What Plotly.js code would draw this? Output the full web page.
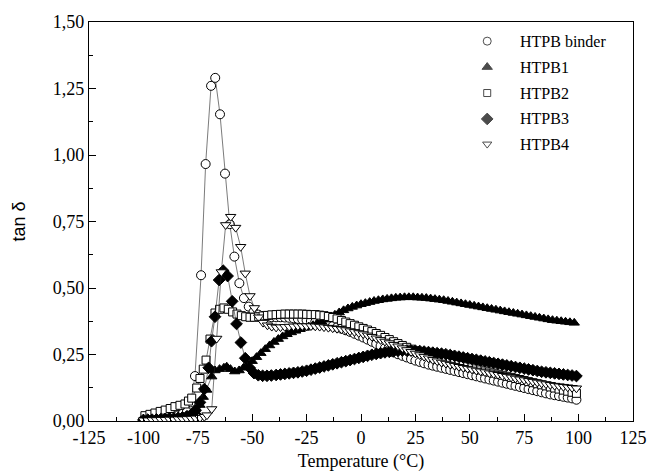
<!DOCTYPE html>
<html>
<head>
<meta charset="utf-8">
<script src="https://cdn.plot.ly/plotly-3.0.1.min.js"></script>
<style>html,body{margin:0;padding:0;background:#fff;}#chart{width:650px;height:476px;}</style>
</head>
<body>
<div id="chart"></div>
<script>
// ---------- DATA ----------
const seriesNames = ["HTPB binder", "HTPB1", "HTPB2", "HTPB3", "HTPB4"];

const binderT = [-100,-98,-96,-94,-92,-90,-88,-86,-84,-82,-80,-78.2,-76.3,-73.5,-71.4,-68.9,-67.0,-64.8,-62.5,-60.3,-58.2,-55.9,-53.8,-51.6,-49.4,-47.2,
  -45,-43,-41,-39,-37,-35,-33,-31,-29,-27,-25,-23,-21,-19,-17,-15,-13,-11,-9,-7,-5,-3,-1,1,3,5,7,9,11,13,15,17,19,21,23,25,27,29,31,33,35,37,39,41,43,45,47,49,51,53,55,57,59,61,63,65,67,69,71,73,75,77,79,81,83,85,87,89,91,93,95,97,99];
const binderV = [0.005,0.006,0.007,0.008,0.010,0.012,0.014,0.017,0.021,0.027,0.035,0.070,0.169,0.548,0.966,1.260,1.290,1.153,0.930,0.740,0.618,0.518,0.462,0.430,0.410,0.400,
  0.395,0.392,0.390,0.390,0.390,0.389,0.388,0.386,0.384,0.382,0.379,0.376,0.373,0.370,0.366,0.362,0.357,0.352,0.347,0.341,0.335,0.328,0.321,0.314,0.306,0.298,0.290,0.282,0.274,0.266,0.258,0.251,0.245,0.239,0.233,0.227,0.222,0.217,0.212,0.208,0.204,0.200,0.196,0.192,0.188,0.184,0.180,0.176,0.172,0.168,0.164,0.160,0.156,0.152,0.148,0.144,0.140,0.136,0.132,0.128,0.124,0.120,0.116,0.112,0.108,0.104,0.100,0.097,0.094,0.091,0.088,0.085,0.080];

const htpb1T = [-100,-98,-96,-94,-92,-90,-88,-86,-84,-82,-80,-78,-76,-74,-72.5,-70.9,-68.6,-67.1,-65,-63,-61.7,-60,-58,-56,-54,-52,-50,
  -48,-46,-44,-42,-40,-38,-36,-34,-32,-30,-28,-26,-24,-22,-20,-18,-16,-14,-12,-10,-8,-6,-4,-2,0,2,4,6,8,10,12,14,16,18,20,22,24,26,28,30,32,34,36,38,40,42,44,46,48,50,52,54,56,58,60,62,64,66,68,70,72,74,76,78,80,82,84,86,88,90,92,94,96,98];
const htpb1V = [0.004,0.005,0.005,0.006,0.006,0.007,0.008,0.009,0.010,0.012,0.014,0.020,0.035,0.060,0.090,0.117,0.167,0.190,0.195,0.200,0.204,0.195,0.186,0.190,0.200,0.210,0.225,
  0.240,0.255,0.270,0.284,0.297,0.308,0.318,0.326,0.333,0.339,0.345,0.350,0.355,0.360,0.366,0.373,0.381,0.390,0.399,0.408,0.416,0.423,0.429,0.434,0.439,0.443,0.447,0.451,0.454,0.457,0.459,0.461,0.463,0.464,0.465,0.465,0.465,0.464,0.463,0.462,0.460,0.458,0.456,0.454,0.451,0.448,0.445,0.442,0.439,0.436,0.433,0.430,0.427,0.424,0.421,0.418,0.415,0.412,0.409,0.406,0.403,0.400,0.397,0.394,0.391,0.388,0.385,0.382,0.379,0.377,0.375,0.373,0.371,0.369];

const htpb2T = [-99.3,-97,-94.7,-92.3,-90,-87.7,-85.5,-83.2,-80.9,-79.3,-77.8,-75.5,-74,-72.5,-71.2,-69.4,-67.1,
  -65,-63,-61,-59,-57,-55,-53,-51,-49,-47,-45,-43,-41,-39,-37,-35,-33,-31,-29,-27,-25,-23,-21,-19,-17,-15,-13,-11,-9,-7,-5,-3,-1,1,3,5,7,9,11,13,15,17,19,21,23,25,27,29,31,33,35,37,39,41,43,45,47,49,51,53,55,57,59,61,63,65,67,69,71,73,75,77,79,81,83,85,87,89,91,93,95,97,99];
const htpb2V = [0.020,0.025,0.030,0.036,0.041,0.047,0.054,0.059,0.064,0.075,0.086,0.124,0.160,0.195,0.229,0.308,0.406,
  0.420,0.425,0.420,0.410,0.402,0.396,0.392,0.390,0.390,0.392,0.395,0.397,0.399,0.400,0.401,0.402,0.402,0.402,0.402,0.402,0.401,0.400,0.400,0.398,0.396,0.393,0.389,0.384,0.378,0.372,0.366,0.360,0.354,0.348,0.342,0.336,0.329,0.322,0.314,0.306,0.298,0.291,0.284,0.277,0.270,0.264,0.258,0.252,0.246,0.240,0.235,0.230,0.225,0.220,0.216,0.212,0.208,0.204,0.200,0.196,0.192,0.188,0.184,0.180,0.176,0.172,0.168,0.164,0.160,0.156,0.152,0.148,0.144,0.140,0.136,0.132,0.128,0.124,0.120,0.116,0.112,0.108,0.104];

const htpb3T = [-100,-98,-96,-94,-92,-90,-88,-86,-84,-82,-80,-78,-76,-74,-72,-70,-68.7,-67.1,-65.2,-63.3,-61.3,-59.2,-57.2,-55.2,-53.2,-51.2,-49.2,-47.2,-45.2,-43.2,-41.2,
  -39,-37,-35,-33,-31,-29,-27,-25,-23,-21,-19,-17,-15,-13,-11,-9,-7,-5,-3,-1,1,3,5,7,9,11,13,15,17,19,21,23,25,27,29,31,33,35,37,39,41,43,45,47,49,51,53,55,57,59,61,63,65,67,69,71,73,75,77,79,81,83,85,87,89,91,93,95,97,99];
const htpb3V = [0.004,0.005,0.005,0.006,0.007,0.008,0.009,0.010,0.012,0.014,0.018,0.025,0.040,0.070,0.120,0.200,0.300,0.392,0.530,0.565,0.545,0.450,0.365,0.295,0.236,0.200,0.180,0.172,0.170,0.170,0.171,
  0.173,0.175,0.177,0.179,0.181,0.183,0.186,0.189,0.193,0.197,0.201,0.205,0.209,0.213,0.217,0.221,0.225,0.229,0.233,0.237,0.241,0.245,0.249,0.252,0.255,0.258,0.260,0.262,0.264,0.265,0.265,0.265,0.264,0.263,0.261,0.259,0.257,0.255,0.253,0.251,0.248,0.245,0.242,0.239,0.236,0.233,0.230,0.227,0.224,0.221,0.218,0.215,0.212,0.209,0.206,0.203,0.200,0.197,0.194,0.191,0.188,0.185,0.183,0.181,0.179,0.177,0.175,0.173,0.171,0.169];

const htpb4T = [-100,-98,-96,-94,-92,-90,-88,-86,-84,-82,-80,-78,-76,-74,-72,-70.8,-68.6,-66.3,-64.2,-62.2,-59.9,-57.6,-55.3,-53.2,-51,-49,-47,-45,-43,-41,
  -39,-37,-35,-33,-31,-29,-27,-25,-23,-21,-19,-17,-15,-13,-11,-9,-7,-5,-3,-1,1,3,5,7,9,11,13,15,17,19,21,23,25,27,29,31,33,35,37,39,41,43,45,47,49,51,53,55,57,59,61,63,65,67,69,71,73,75,77,79,81,83,85,87,89,91,93,95,97,99];
const htpb4V = [0.003,0.003,0.004,0.004,0.005,0.005,0.006,0.006,0.007,0.007,0.008,0.009,0.010,0.012,0.016,0.022,0.045,0.310,0.560,0.737,0.768,0.727,0.655,0.555,0.470,0.425,0.390,0.370,0.360,0.355,
  0.352,0.353,0.354,0.355,0.356,0.357,0.357,0.357,0.357,0.356,0.355,0.353,0.351,0.349,0.347,0.345,0.342,0.338,0.335,0.331,0.327,0.322,0.317,0.311,0.305,0.299,0.293,0.287,0.281,0.274,0.267,0.260,0.254,0.248,0.242,0.236,0.230,0.225,0.220,0.216,0.212,0.208,0.204,0.200,0.197,0.194,0.190,0.187,0.184,0.180,0.177,0.174,0.170,0.167,0.164,0.160,0.157,0.154,0.151,0.148,0.145,0.142,0.139,0.136,0.133,0.131,0.129,0.127,0.125,0.123];

const xTickVals = [-125,-100,-75,-50,-25,0,25,50,75,100,125];
const xTickText = ["-125","-100","-75","-50","-25","0","25","50","75","100","125"];
const yTickVals = [0,0.25,0.5,0.75,1.0,1.25,1.5];
const yTickText = ["0,00","0,25","0,50","0,75","1,00","1,25","1,50"];

// ---------- STYLE ----------
const serif = "Liberation Serif, Times New Roman, serif";
const lineStyle = {color: "#222", width: 0.6};
const symbols = ["circle", "triangle-up", "square", "diamond", "triangle-down"];
const fills = ["#fff", "#000", "#fff", "#000", "#fff"];
const sizes = [9, 9, 8, 9, 9];
const xs = [binderT, htpb1T, htpb2T, htpb3T, htpb4T];
const ys = [binderV, htpb1V, htpb2V, htpb3V, htpb4V];

const traces = seriesNames.map((name, i) => ({
  type: "scatter", mode: "lines+markers", name: name,
  x: xs[i], y: ys[i], showlegend: false,
  line: lineStyle,
  marker: {symbol: symbols[i], size: sizes[i], color: fills[i], line: {color: "#000", width: 1}}
}));

// custom legend (symbols on hidden overlay axes, labels as annotations)
const legX = 0.732, legTextX = 0.788;
const legY = [0.952, 0.887, 0.822, 0.757, 0.694];
traces.push({
  type: "scatter", mode: "markers", xaxis: "x2", yaxis: "y2", showlegend: false, hoverinfo: "skip",
  x: legY.map(() => legX), y: legY,
  marker: {symbol: symbols, size: [8, 9, 7, 9, 8], color: fills, line: {color: "#000", width: 1}}
});
const annotations = seriesNames.map((n, i) => ({
  text: n, xref: "paper", yref: "paper", x: legTextX, y: legY[i], xanchor: "left", yanchor: "middle",
  showarrow: false, font: {family: serif, size: 16, color: "#000"}
}));

const axisCommon = {
  showline: true, linecolor: "#000", linewidth: 1.2, mirror: true,
  showgrid: false, zeroline: false, ticks: "inside", ticklen: 7, tickwidth: 1, tickcolor: "#000",
  tickfont: {family: serif, size: 18, color: "#000"}
};

const layout = {
  width: 650, height: 476,
  margin: {l: 89, r: 17, t: 22, b: 55},
  paper_bgcolor: "#fff", plot_bgcolor: "#fff",
  showlegend: false,
  xaxis: Object.assign({}, axisCommon, {
    range: [-125, 125], tickmode: "array", tickvals: xTickVals, ticktext: xTickText,
    minor: {tickvals: [-112.5,-87.5,-62.5,-37.5,-12.5,12.5,37.5,62.5,87.5,112.5], ticks: "inside", ticklen: 4, tickcolor: "#000"},
    title: {text: "Temperature (°C)", font: {family: serif, size: 18, color: "#000"}, standoff: 7}
  }),
  yaxis: Object.assign({}, axisCommon, {
    range: [0, 1.5], tickmode: "array", tickvals: yTickVals, ticktext: yTickText,
    minor: {tickvals: [0.125,0.375,0.625,0.875,1.125,1.375], ticks: "inside", ticklen: 4, tickcolor: "#000"},
    title: {text: "tan δ", font: {family: "Liberation Sans, Arial, sans-serif", size: 18, color: "#000"}, standoff: 22}
  }),
  xaxis2: {overlaying: "x", range: [0, 1], visible: false, fixedrange: true},
  yaxis2: {overlaying: "y", range: [0, 1], visible: false, fixedrange: true},
  annotations: annotations
};

Plotly.newPlot("chart", traces, layout, {displayModeBar: false, staticPlot: true});
</script>
</body>
</html>
